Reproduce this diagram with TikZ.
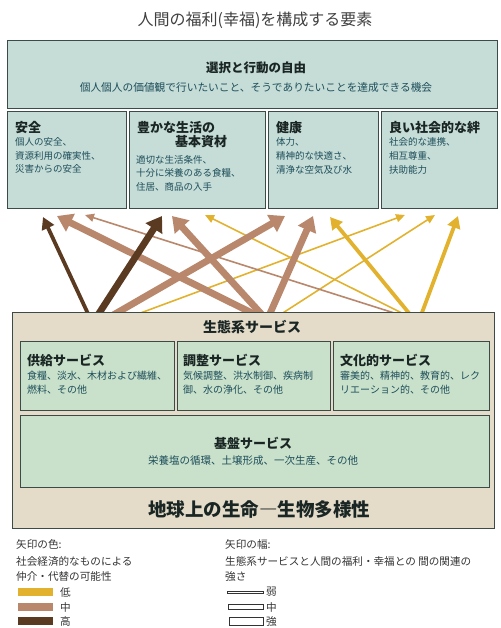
\documentclass[tikz,border=0pt]{standalone}
\usepackage{fontspec}
\setmainfont{Noto Sans CJK JP}
\usetikzlibrary{arrows.meta}
\definecolor{wbfill}{HTML}{C5DCD7}
\definecolor{esfill}{HTML}{C9E1CB}
\definecolor{beige}{HTML}{E4DBC9}
\definecolor{boxline}{HTML}{3C4A48}
\definecolor{bodytext}{HTML}{1E4E5A}
\definecolor{ttltext}{HTML}{1A2624}
\definecolor{darkbrown}{HTML}{5B3A22}
\definecolor{midbrown}{HTML}{B8876C}
\definecolor{lowyellow}{HTML}{E2B22E}
\newcommand{\fs}[1]{\fontsize{#1}{#1}\selectfont}
\tikzset{
  box/.style={draw=boxline, line width=1.2pt, inner sep=0pt, anchor=north west},
  wb/.style={box, fill=wbfill},
  es/.style={box, fill=esfill},
  ttl/.style={anchor=west, inner sep=0pt, font=\bfseries\fs{13}, text=ttltext},
  body/.style={anchor=west, inner sep=0pt, font=\fs{9.5}, text=bodytext},
  sbody/.style={anchor=west, inner sep=0pt, font=\fs{10}, text=bodytext},
  legtext/.style={anchor=west, inner sep=0pt, font=\fs{10.6}, text=black!80},
  arrweak/.style={line width=1.6pt, -{Triangle[length=9pt,width=8pt]}},
  arrmed/.style={line width=3.8pt, -{Triangle[length=12pt,width=13pt]}},
  arrstrong/.style={line width=6.8pt, -{Triangle[length=15pt,width=19pt]}},
}
\begin{document}
\begin{tikzpicture}[x=1pt,y=-1pt]
\useasboundingbox (0,0) rectangle (500,628);

% title
\node[font=\fs{16}, text=black!75] (title) at (255,20) {人間の福利(幸福)を構成する要素};

% arrow end points
\coordinate (sP1) at (90,318);  \coordinate (tS1) at (43,217);
\coordinate (sR1) at (262,318); \coordinate (tS2) at (57,216);
\coordinate (sC1) at (410,318); \coordinate (tS3) at (85,215);
\coordinate (sP2) at (96,318);  \coordinate (tB1) at (162,216);
\coordinate (sR2) at (265,318); \coordinate (tB2) at (172,216);
\coordinate (sP3) at (108,318); \coordinate (tH1) at (285,216);
\coordinate (sC2) at (412,318); \coordinate (tB3) at (205,215);
\coordinate (sR3) at (268,318); \coordinate (tH2) at (313,216);
\coordinate (sP4) at (127,318); \coordinate (tG1) at (405,215);
\coordinate (sR4) at (275,318); \coordinate (tG2) at (435,215);
\coordinate (sC3) at (413,318); \coordinate (tH3) at (330,217);
\coordinate (sC4) at (420,318); \coordinate (tG3) at (458,216);

% arrows
\draw[arrweak, lowyellow] (sC2) -- (tB3);
\draw[arrweak, lowyellow] (sP4) -- (tG1);
\draw[arrweak, lowyellow] (sR4) -- (tG2);
\draw[arrweak, midbrown] (sC1) -- (tS3);
\draw[arrmed, lowyellow] (sC3) -- (tH3);
\draw[arrmed, lowyellow] (sC4) -- (tG3);
\draw[arrstrong, midbrown] (sR1) -- (tS2);
\draw[arrstrong, midbrown] (sR2) -- (tB2);
\draw[arrstrong, midbrown] (sP3) -- (tH1);
\draw[arrstrong, midbrown] (sR3) -- (tH2);
\draw[arrmed, darkbrown] (sP1) -- (tS1);
\draw[arrstrong, darkbrown] (sP2) -- (tB1);

% well-being boxes
\node[wb, minimum width=490pt, minimum height=68pt] (free) at (7,40) {};
\node[font=\bfseries\fs{12.5}, text=ttltext, inner sep=0pt] (freet) at (256,68) {選択と行動の自由};
\node[font=\fs{10.7}, text=bodytext, inner sep=0pt] (freed) at (256,87) {個人個人の価値観で行いたいこと、そうでありたいことを達成できる機会};

\node[wb, minimum width=119pt, minimum height=97pt] (sec) at (7,111) {};
\node[wb, minimum width=136pt, minimum height=97pt] (mat) at (129,111) {};
\node[wb, minimum width=110pt, minimum height=97pt] (hea) at (268,111) {};
\node[wb, minimum width=116pt, minimum height=97pt] (soc) at (381,111) {};

\node[ttl] (sect) at (15,128) {安全};
\node[body] (sec1) at (15,142) {個人の安全、};
\node[body] (sec2) at (15,156) {資源利用の確実性、};
\node[body] (sec3) at (15,169) {災害からの安全};

\node[ttl] (matt) at (137,128) {豊かな生活の};
\node[ttl] (matt2) at (175,142) {基本資材};
\node[body] (mat1) at (136,160) {適切な生活条件、};
\node[body] (mat2) at (136,173) {十分に栄養のある食糧、};
\node[body] (mat3) at (136,187) {住居、商品の入手};

\node[ttl] (heat) at (276,128) {健康};
\node[body] (hea1) at (276,142) {体力、};
\node[body] (hea2) at (276,156) {精神的な快適さ、};
\node[body] (hea3) at (276,170) {清浄な空気及び水};

\node[ttl] (soct) at (389,128) {良い社会的な絆};
\node[body] (soc1) at (389,142) {社会的な連携、};
\node[body] (soc2) at (389,156) {相互尊重、};
\node[body] (soc3) at (389,170) {扶助能力};

% ecosystem services
\node[box, fill=beige, minimum width=482pt, minimum height=216pt] (eco) at (12,312) {};
\node[font=\bfseries\fs{14}, text=ttltext, inner sep=0pt] (ecot) at (252,327) {生態系サービス};

\node[es, minimum width=154pt, minimum height=69pt] (prov) at (20,341) {};
\node[es, minimum width=153pt, minimum height=69pt] (reg) at (177,341) {};
\node[es, minimum width=156pt, minimum height=69pt] (cult) at (333,341) {};

\node[ttl] (provt) at (27,360) {供給サービス};
\node[sbody] (prov1) at (27,376) {食糧、淡水、木材および繊維、};
\node[sbody] (prov2) at (27,390) {燃料、その他};

\node[ttl] (regt) at (183,360) {調整サービス};
\node[sbody] (reg1) at (183,376) {気候調整、洪水制御、疾病制};
\node[sbody] (reg2) at (183,390) {御、水の浄化、その他};

\node[ttl] (cultt) at (340,360) {文化的サービス};
\node[sbody] (cult1) at (340,376) {審美的、精神的、教育的、レク};
\node[sbody] (cult2) at (340,390) {リエーション的、その他};

\node[es, minimum width=469pt, minimum height=72pt] (supp) at (20,415) {};
\node[font=\bfseries\fs{13}, text=ttltext, inner sep=0pt] (suppt) at (253,443) {基盤サービス};
\node[font=\fs{10.5}, text=bodytext, inner sep=0pt] (supp1) at (253,461) {栄養塩の循環、土壌形成、一次生産、その他};

\node[font=\bfseries\fs{18.5}, text=ttltext, inner sep=0pt] (life) at (259,509) {地球上の生命―生物多様性};

% legend: colour
\node[legtext] (lc0) at (16,544) {矢印の色:};
\node[legtext] (lc1) at (16,561) {社会経済的なものによる};
\node[legtext] (lc2) at (16,576) {仲介・代替の可能性};
\node[fill=lowyellow, minimum width=35pt, minimum height=8pt, inner sep=0pt, anchor=west] (swl) at (18,592) {};
\node[fill=midbrown, minimum width=35pt, minimum height=8pt, inner sep=0pt, anchor=west] (swm) at (18,607) {};
\node[fill=darkbrown, minimum width=35pt, minimum height=8pt, inner sep=0pt, anchor=west] (swh) at (18,621) {};
\node[legtext] (lcl) at (60,592) {低};
\node[legtext] (lcm) at (60,607) {中};
\node[legtext] (lch) at (60,621) {高};

% legend: width
\node[legtext] (lw0) at (225,544) {矢印の幅:};
\node[legtext] (lw1) at (225,561) {生態系サービスと人間の福利・幸福との 間の関連の};
\node[legtext] (lw2) at (225,576) {強さ};
\node[draw=black!80, line width=0.7pt, fill=white, minimum width=36pt, minimum height=2pt, inner sep=0pt, anchor=west] (wwk) at (227,592) {};
\node[draw=black!80, line width=0.7pt, fill=white, minimum width=35pt, minimum height=5pt, inner sep=0pt, anchor=west] (wmd) at (228,607) {};
\node[draw=black!80, line width=0.7pt, fill=white, minimum width=34pt, minimum height=8pt, inner sep=0pt, anchor=west] (wst) at (229,621) {};
\node[legtext] (lww) at (266,592) {弱};
\node[legtext] (lwm) at (266,607) {中};
\node[legtext] (lws) at (266,621) {強};
\end{tikzpicture}
\end{document}
